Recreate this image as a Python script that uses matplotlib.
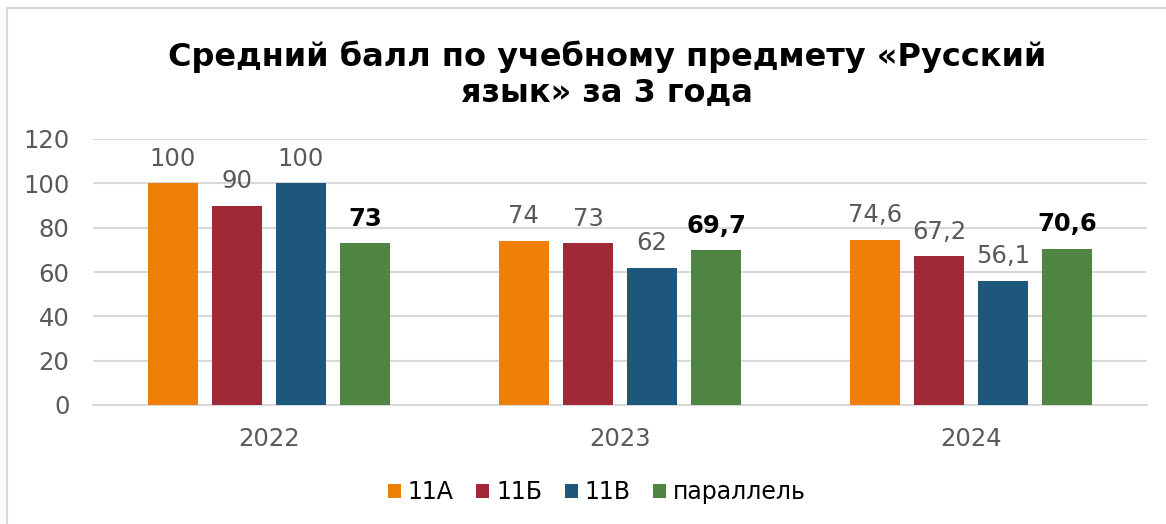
import numpy as np
import matplotlib
matplotlib.use('Agg')
import matplotlib.pyplot as plt

years = ["2022", "2023", "2024"]
series = ["11А", "11Б", "11В", "параллель"]
v_11a = [100, 74, 74.6]
v_11b = [90, 73, 67.2]
v_11v = [100, 62, 56.1]
v_par = [73, 69.7, 70.6]
colors = ["#F07F09", "#9F2936", "#1D587C", "#4E8542"]

plt.rcParams['font.family'] = ['DejaVu Sans']
fig = plt.figure(figsize=(11.66, 5.24), dpi=100)
ax = fig.add_axes([93/1166, 1 - 405/524, (1147-93)/1166, 266/524])

# chart border (only top/left visible in the crop)
fig.add_artist(plt.Line2D([7/1166, 7/1166], [0, 1 - 8/524], color='#D9D9D9', lw=1.5, transform=fig.transFigure))
fig.add_artist(plt.Line2D([7/1166, 1], [1 - 8/524, 1 - 8/524], color='#D9D9D9', lw=1.5, transform=fig.transFigure))

x = np.arange(len(years))
w = 50/351
step = 64/351
for i, (vals, c, name) in enumerate(zip([v_11a, v_11b, v_11v, v_par], colors, series)):
    pos = x + (i - 1.5) * step
    ax.bar(pos, vals, w, color=c, label=name, zorder=3)
    for xp, v in zip(pos, vals):
        txt = f"{v:g}".replace('.', ',')
        if i == 3:
            ax.annotate(txt, (xp, v), xytext=(0, 9), textcoords='offset points', ha='center', va='bottom',
                        fontsize=17.5, fontweight='bold', color='black')
        else:
            ax.annotate(txt, (xp, v), xytext=(0, 9), textcoords='offset points', ha='center', va='bottom',
                        fontsize=17.5, color='#595959')

ax.set_xlim(-0.5, 2.5)
ax.set_ylim(0, 120)
ax.set_yticks(range(0, 121, 20))
ax.set_xticks(x)
ax.set_xticklabels(years)
ax.tick_params(axis='both', length=0, labelsize=17.5, labelcolor='#595959')
ax.tick_params(axis='x', pad=16)
ax.tick_params(axis='y', pad=17)
ax.grid(axis='y', color='#D9D9D9', lw=1.5, zorder=0)
for s in ['top', 'right', 'left']:
    ax.spines[s].set_visible(False)
ax.spines['bottom'].set_color('#D9D9D9')
ax.spines['bottom'].set_linewidth(1.5)

fig.text(607/1166, 1 - 74/524, "Средний балл по учебному предмету «Русский\nязык» за 3 года",
         ha='center', va='center', fontsize=23, fontweight='bold', linespacing=1.15)

fig.legend(loc='center', bbox_to_anchor=(597/1166, 1 - 492/524), ncol=4, frameon=False,
           fontsize=17, handlelength=0.55, handleheight=0.55, handletextpad=0.3, columnspacing=0.95)

fig.savefig('out.png', dpi=100, facecolor='white')
